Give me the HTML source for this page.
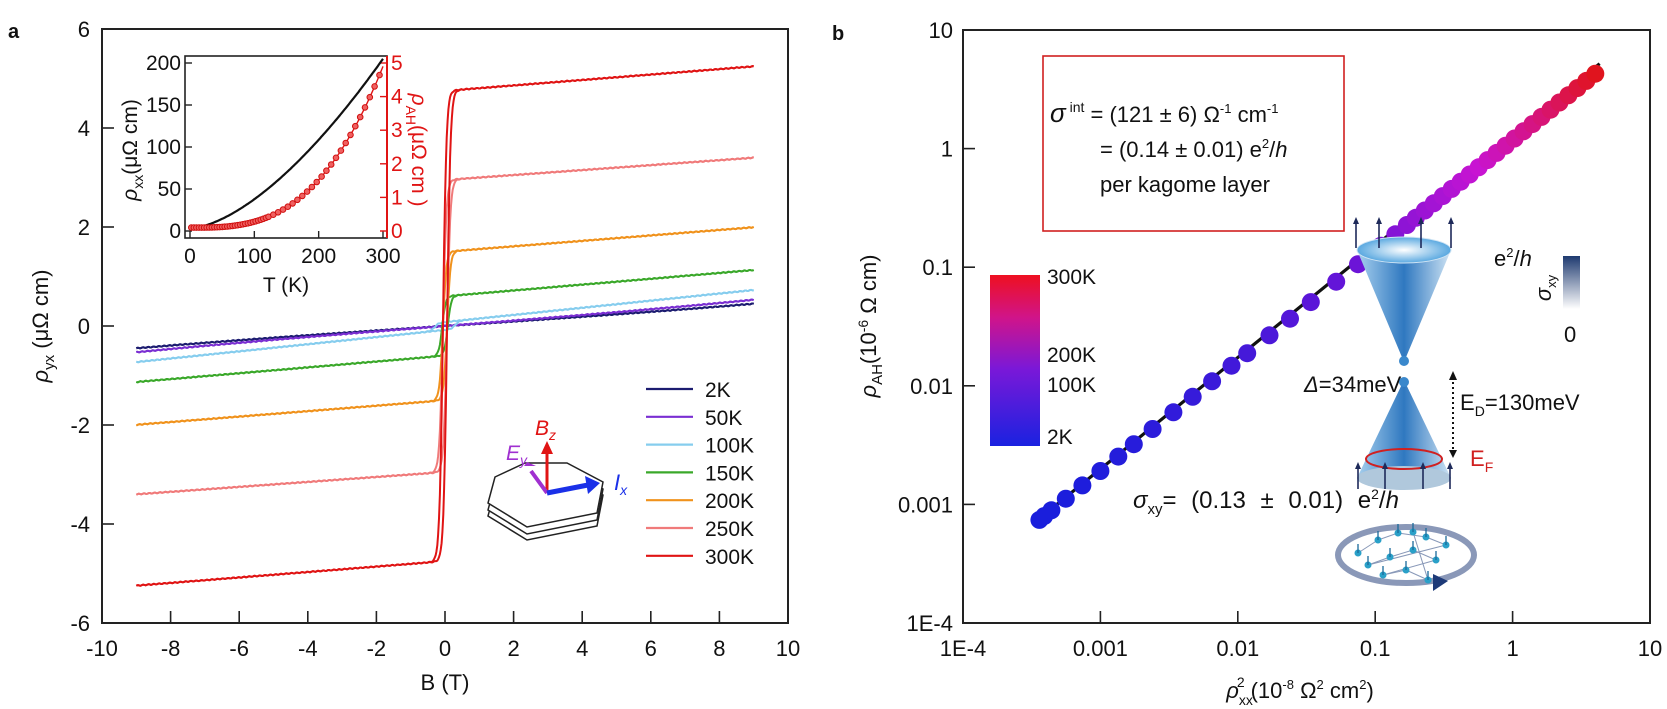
<!DOCTYPE html>
<html><head><meta charset="utf-8">
<style>
html,body{margin:0;padding:0;background:#fff;}
svg{display:block;font-family:"Liberation Sans",sans-serif;}
</style></head>
<body>
<svg id="s" width="1667" height="709" viewBox="0 0 1667 709" xmlns="http://www.w3.org/2000/svg">
<defs>
<linearGradient id="cb" x1="0" y1="1" x2="0" y2="0">
<stop offset="0" stop-color="#1a22e0"/><stop offset="0.45" stop-color="#7a18d8"/><stop offset="0.75" stop-color="#d0148a"/><stop offset="1" stop-color="#ee1020"/>
</linearGradient>
<linearGradient id="sb" x1="0" y1="1" x2="0" y2="0">
<stop offset="0" stop-color="#ffffff"/><stop offset="1" stop-color="#1e3a70"/>
</linearGradient>
<linearGradient id="cone" x1="0" y1="0" x2="1" y2="0">
<stop offset="0" stop-color="#a8d0ee"/><stop offset="0.5" stop-color="#2f78c0"/><stop offset="1" stop-color="#cfe4f4"/>
</linearGradient>
<radialGradient id="top" cx="0.5" cy="0.5" r="0.5">
<stop offset="0" stop-color="#ffffff"/><stop offset="1" stop-color="#59a8e0"/>
</radialGradient>
</defs>
<g id="g"></g>
</svg>
<script>
var g=document.getElementById('g');var out='';
function L(x1,y1,x2,y2,c,w,extra){out+='<line x1="'+x1+'" y1="'+y1+'" x2="'+x2+'" y2="'+y2+'" stroke="'+(c||'#000')+'" stroke-width="'+(w||1.5)+'" '+(extra||'')+'/>';}
function T(x,y,t,opt){opt=opt||{};out+='<text x="'+x+'" y="'+y+'" font-size="'+(opt.fs||22)+'" fill="'+(opt.c||'#111')+'" text-anchor="'+(opt.a||'start')+'" '+(opt.ex||'')+'>'+t+'</text>';}
// ---------- panel a ----------
T(8,38,'a',{fs:20,ex:'font-weight="bold"'});
var X0=102,X1=788,Y0=29,Y1=623;
function bx(B){return X0+(B+10)*(X1-X0)/20;}
function by(v){return 326-49.5*v;}
out+='<rect x="'+X0+'" y="'+Y0+'" width="'+(X1-X0)+'" height="'+(Y1-Y0)+'" fill="none" stroke="#222" stroke-width="2"/>';
for(var B=-10;B<=10;B+=2){var x=bx(B);if(B>-10&&B<10)L(x,Y1,x,Y1-12,'#222',1.6);T(x,656,B,{a:'middle'});}
for(var v=-6;v<=6;v+=2){var y=by(v);if(v>-6&&v<6)L(X0,y,X0+12,y,'#222',1.6);T(90,y+8,v,{a:'end'});}
T(445,690,'B (T)',{a:'middle'});
T(0,0,'<tspan font-style="italic">ρ</tspan><tspan font-size="15" dy="6">yx</tspan><tspan dy="-6"> (μΩ cm)</tspan>',{a:'middle',ex:'transform="translate(48,326) rotate(-90)"'});
var curves=[
 ['#1c1c70',0.05,0.0,0.05,0.3],
 ['#7a2ed2',0.059,0.0,0.05,0.3],
 ['#86cdee',0.072,0.08,0.3,0.12],
 ['#3aa82a',0.059,0.6,0.08,0.1],
 ['#f0921c',0.055,1.5,0.06,0.1],
 ['#f07a7a',0.05,2.95,0.06,0.1],
 ['#e01414',0.055,4.75,0.06,0.1]];
function th(z){return Math.tanh(z);}
curves.forEach(function(c,i){
 var s=c[1],M=c[2],Hc=c[3],w=c[4];
 [1,-1].forEach(function(dir){
  var p='';
  for(var k=0;k<=720;k++){
   var B=-9+18*k/720;
   var v=s*B+M*th((B-dir*Hc)/w);
   if(M==0)v=s*B*(1+0.001*B*B)/(1.081);
   var jit=(Math.sin(k*7.3+i)*0.008);
   p+=(k?'L':'M')+bx(B).toFixed(1)+','+by(v+jit).toFixed(1);
  }
  out+='<path d="'+p+'" fill="none" stroke="'+c[0]+'" stroke-width="2"/>';
 });
});
// legend
var labs=['2K','50K','100K','150K','200K','250K','300K'];
labs.forEach(function(l,i){var y=389+i*27.8;L(646,y,693,y,curves[i][0],2.2);T(705,y+8,l,{fs:21});});
// sample schematic
out+='<polygon points="495,490 525,476 567,476 603,495 597,526 527,540 488,516" fill="#fff" stroke="#222" stroke-width="1.5"/>';
out+='<polygon points="495,484 525,470 567,470 603,489 597,520 527,534 488,510" fill="#fff" stroke="#222" stroke-width="1.5"/>';
out+='<polygon points="495,477 525,463 567,463 603,482 597,513 527,527 488,503" fill="#fff" stroke="#222" stroke-width="1.5"/>';
L(547,493,547,452,'#e01414',3);out+='<polygon points="541,454 553,454 547,441" fill="#e01414"/>';
L(547,493,531,471,'#a030d0',4);out+='<polygon points="524,466 536,466 527,462" fill="#a030d0"/>';
L(547,493,588,485,'#1a30e8',5);out+='<polygon points="585,476 600,483 588,494" fill="#1a30e8"/>';
T(535,435,'<tspan font-style="italic">B</tspan><tspan font-size="14" dy="5" font-style="italic">z</tspan>',{c:'#e01414',fs:21});
T(506,460,'<tspan font-style="italic">E</tspan><tspan font-size="14" dy="5" font-style="italic">y</tspan>',{c:'#a030d0',fs:21});
T(614,490,'<tspan font-style="italic">I</tspan><tspan font-size="14" dy="5" font-style="italic">x</tspan>',{c:'#1a30e8',fs:22});
// inset
var IX0=185,IX1=387,IY0=56,IY1=238;
function ix(t){return 190+t*(383-190)/300;}
function iyl(v){return 231-v*0.84;}
function iyr(v){return 231-v*33.6;}
out+='<rect x="'+IX0+'" y="'+IY0+'" width="'+(IX1-IX0)+'" height="'+(IY1-IY0)+'" fill="#fff" stroke="#222" stroke-width="1.6"/>';
L(IX1,IY0,IX1,IY1,'#e01414',2);
[0,100,200,300].forEach(function(t){var x=ix(t);L(x,IY1,x,IY1-7,'#222',1.4);T(x,263,t,{a:'middle',fs:21});});
[0,50,100,150,200].forEach(function(v){var y=iyl(v);L(IX0,y,IX0+7,y,'#222',1.4);T(181,y+7,v,{a:'end',fs:21});});
[0,1,2,3,4,5].forEach(function(v){var y=iyr(v);L(IX1,y,IX1-7,y,'#e01414',1.4);T(391,y+7,v,{fs:21,c:'#e01414'});});
T(286,292,'T (K)',{a:'middle',fs:21});
T(0,0,'<tspan font-style="italic">ρ</tspan><tspan font-size="14" dy="6">xx</tspan><tspan dy="-6">(μΩ cm)</tspan>',{a:'middle',fs:21,ex:'transform="translate(137,150) rotate(-90)"'});
T(0,0,'<tspan font-style="italic">ρ</tspan><tspan font-size="14" dy="6">AH</tspan><tspan dy="-6">(μΩ cm )</tspan>',{a:'middle',fs:21,c:'#e01414',ex:'transform="translate(412,150) rotate(90)"'});
var p='';for(var t=2;t<=300;t+=2){var v=3+202*Math.pow(t/300,1.6);p+=(t>2?'L':'M')+ix(t).toFixed(1)+','+iyl(v).toFixed(1);}
out+='<path d="'+p+'" fill="none" stroke="#111" stroke-width="2.2"/>';
p='';var dots='';for(var t=2;t<=300;t+=2){var v=0.1+4.8*Math.pow(t/300,3);p+=(t>2?'L':'M')+ix(t).toFixed(1)+','+iyr(v).toFixed(1);}
out+='<path d="'+p+'" fill="none" stroke="#e01414" stroke-width="1.4"/>';
for(var t=2;t<=300;t+=(t<120?4:7.5)){var v=0.1+4.8*Math.pow(t/300,3);dots+='<circle cx="'+ix(t).toFixed(1)+'" cy="'+iyr(v).toFixed(1)+'" r="2.8" fill="#f06060" stroke="#d01010" stroke-width="1"/>';}
out+=dots;
// ---------- panel b ----------
T(832,40,'b',{fs:20,ex:'font-weight="bold"'});
var RX0=963,RX1=1650,RY0=30,RY1=623;
function lx(v){return RX0+(Math.log10(v)+4)*(RX1-RX0)/5;}
function ly(v){return RY1-(Math.log10(v)+4)*(RY1-RY0)/5;}
out+='<rect x="'+RX0+'" y="'+RY0+'" width="'+(RX1-RX0)+'" height="'+(RY1-RY0)+'" fill="none" stroke="#222" stroke-width="2"/>';
var tl=['1E-4','0.001','0.01','0.1','1','10'];
for(var i=0;i<6;i++){var v=Math.pow(10,i-4);var x=lx(v),y=ly(v);
 if(i>0&&i<5){L(x,RY1,x,RY1-12,'#222',1.6);L(RX0,y,RX0+12,y,'#222',1.6);}
 T(x,656,tl[i],{a:'middle'});T(953,y+8,tl[i],{a:'end'});}
T(1300,698,'<tspan font-style="italic">ρ</tspan><tspan font-size="14" dy="7">xx</tspan><tspan font-size="14" dx="-16" dy="-18">2</tspan><tspan dx="6" dy="11">(10</tspan><tspan font-size="13" dy="-9">-8</tspan><tspan dy="9"> Ω</tspan><tspan font-size="13" dy="-9">2</tspan><tspan dy="9"> cm</tspan><tspan font-size="13" dy="-9">2</tspan><tspan dy="9">)</tspan>',{a:'middle'});
T(0,0,'<tspan font-style="italic">ρ</tspan><tspan font-size="15" dy="6">AH</tspan><tspan dy="-6">(10</tspan><tspan font-size="14" dy="-8">-6</tspan><tspan dy="8"> Ω cm)</tspan>',{a:'middle',ex:'transform="translate(876,326) rotate(-90)"'});
// fit line
L(lx(3.3e-4),ly(7.0e-4),lx(4.3),ly(5.2),'#111',3.2);
// points
var xs=[];
[3.6e-4,3.9e-4,4.4e-4,5.6e-4,7.4e-4,1.0e-3,1.35e-3,1.75e-3,2.4e-3,3.4e-3,4.7e-3,6.5e-3,9.0e-3,1.17e-2,1.7e-2,2.4e-2,3.4e-2,5.2e-2,0.075,0.11,0.14].forEach(function(v){xs.push(v);});
for(var k=0;k<22;k++){xs.push(0.17*Math.pow(4.0/0.17,k/21));}
function col(f){var stops=[[0,[25,30,220]],[0.45,[110,20,215]],[0.7,[200,20,210]],[0.85,[215,20,120]],[1,[225,20,25]]];
 for(var i=1;i<stops.length;i++){if(f<=stops[i][0]){var a=stops[i-1],b=stops[i];var u=(f-a[0])/(b[0]-a[0]);
 return 'rgb('+a[1].map(function(c,j){return Math.round(c+(b[1][j]-c)*u);}).join(',')+')';}}return 'rgb(225,20,25)';}
xs.forEach(function(v){var yv=Math.pow(10,Math.log10(7.4e-4)+0.93*(Math.log10(v)-Math.log10(3.6e-4)));
 var f=(Math.log10(v)+3.5)/(Math.log10(4.2)+3.5);f=Math.pow(Math.max(0,f),1.5);
 out+='<circle cx="'+lx(v).toFixed(1)+'" cy="'+ly(yv).toFixed(1)+'" r="9" fill="'+col(f)+'"/>';});
// colorbar
out+='<rect x="990" y="275" width="50" height="171" fill="url(#cb)"/>';
T(1047,284,'300K',{fs:21});T(1047,362,'200K',{fs:21});T(1047,392,'100K',{fs:21});T(1047,444,'2K',{fs:21});
// red box
out+='<rect x="1043" y="56" width="301" height="175" fill="none" stroke="#d02020" stroke-width="1.6"/>';
T(1050,122,'<tspan font-style="italic" font-size="26">σ</tspan><tspan font-size="14" dy="-10"> int</tspan><tspan dy="10">  = (121 ± 6) Ω</tspan><tspan font-size="13" dy="-9">-1</tspan><tspan dy="9"> cm</tspan><tspan font-size="13" dy="-9">-1</tspan>',{});
T(1100,157,'= (0.14 ± 0.01) e<tspan font-size="13" dy="-9">2</tspan><tspan dy="9">/</tspan><tspan font-style="italic">h</tspan>',{});
T(1100,192,'per kagome layer',{});
// sigma_xy text
T(1133,508,'<tspan font-style="italic">σ</tspan><tspan font-size="15" dy="6">xy</tspan><tspan dy="-6">= (0.13 ± 0.01) e</tspan><tspan font-size="14" dy="-9">2</tspan><tspan dy="9">/</tspan><tspan font-style="italic">h</tspan>',{fs:24,ex:'word-spacing="8"'});
T(1304,392,'<tspan font-style="italic">Δ</tspan>=34meV',{});
T(1460,410,'E<tspan font-size="14" dy="6">D</tspan><tspan dy="-6">=130meV</tspan>',{});
T(1470,466,'E<tspan font-size="14" dy="6">F</tspan>',{c:'#d02020'});
// cones
var cx=1404;
out+='<path d="M'+(cx-47)+',250 L'+cx+',362 L'+(cx+47)+',250 Z" fill="url(#cone)"/>';
out+='<ellipse cx="'+cx+'" cy="250" rx="47" ry="13" fill="url(#top)" stroke="#cfe4f4"/>';
out+='<circle cx="'+cx+'" cy="361" r="5" fill="#3a88cc"/>';
out+='<path d="M'+(cx-47)+',478 L'+cx+',380 L'+(cx+47)+',478 Z" fill="url(#cone)"/>';
out+='<ellipse cx="'+cx+'" cy="478" rx="47" ry="12" fill="#b0c8dc"/>';
out+='<circle cx="'+cx+'" cy="382" r="5" fill="#3a88cc"/>';
out+='<ellipse cx="'+cx+'" cy="459" rx="38" ry="10" fill="none" stroke="#d02020" stroke-width="2"/>';
[cx-48,cx-25,cx+17,cx+47].forEach(function(x){L(x,248,x,222,'#1e2a5a',1.6);out+='<polygon points="'+(x-3)+',224 '+(x+3)+',224 '+x+',217" fill="#1e2a5a"/>';});
[cx-46,cx-19,cx+19,cx+46].forEach(function(x){L(x,489,x,467,'#1e2a5a',1.6);out+='<polygon points="'+(x-3)+',469 '+(x+3)+',469 '+x+',462" fill="#1e2a5a"/>';});
L(1453,377,1453,452,'#111',2,'stroke-dasharray="2,3"');
out+='<polygon points="1449,380 1457,380 1453,371" fill="#111"/><polygon points="1449,450 1457,450 1453,458" fill="#111"/>';
// kagome ring
var kx=1406,ky=555;
out+='<ellipse cx="'+kx+'" cy="'+ky+'" rx="68" ry="28" fill="none" stroke="#8a98b8" stroke-width="6"/>';
out+='<polygon points="'+(kx+27)+',574 '+(kx+42)+',581 '+(kx+27)+',591" fill="#1e3a78"/>';
var kp=[[-48,-2],[-28,-15],[-8,-22],[20,-18],[40,-10],[-38,10],[-16,2],[7,-5],[30,5],[-23,20],[0,15],[22,25],[7,-23]];
for(var i=0;i<kp.length-1;i++){L(kx+kp[i][0],ky+kp[i][1],kx+kp[i+1][0],ky+kp[i+1][1],'#8898b8',1);}
kp.forEach(function(q){var X=kx+q[0],Y=ky+q[1];out+='<circle cx="'+X+'" cy="'+Y+'" r="3.5" fill="#2aa0c8"/>';L(X,Y,X,Y-9,'#1a6a9a',1.3);});
// sigma_xy colorbar
out+='<rect x="1563" y="256" width="17" height="53" fill="url(#sb)"/>';
T(1494,266,'e<tspan font-size="13" dy="-9">2</tspan><tspan dy="9">/</tspan><tspan font-style="italic">h</tspan>',{});
T(1564,342,'0',{});
T(0,0,'<tspan font-style="italic">σ</tspan><tspan font-size="13" dy="5">xy</tspan>',{a:'middle',ex:'transform="translate(1551,288) rotate(-90)"'});
g.innerHTML=out;
</script>
</body></html>
